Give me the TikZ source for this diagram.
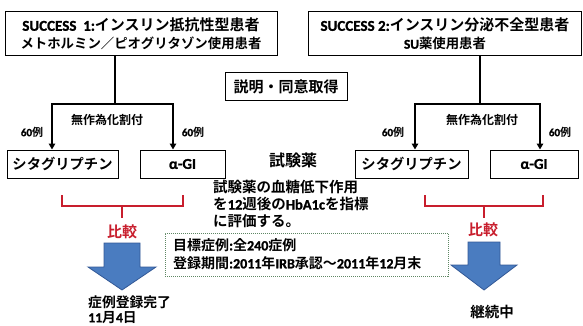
\documentclass[tikz,border=0pt]{standalone}
\usepackage{fontspec}
\setmainfont{Noto Sans CJK JP Bold}
\newfontfamily\latf{Carlito Bold}[FakeBold=1.3]
\newcommand\lt[1]{{\latf #1}}
\usetikzlibrary{arrows.meta}
\definecolor{redc}{RGB}{200,30,45}
\definecolor{bluef}{RGB}{74,124,192}
\definecolor{bluee}{RGB}{50,88,150}
\definecolor{greenb}{RGB}{95,135,100}
\begin{document}
\begin{tikzpicture}[x=1pt,y=-1pt,
  every node/.style={inner sep=0pt},
  box/.style={draw=black, line width=1pt, fill=white, align=center},
  conn/.style={line width=1.6pt},
  arr/.style={conn,-{Triangle[width=6.5pt,length=6pt]}},
  redl/.style={line width=1.8pt, draw=redc},
  barrow/.style={fill=bluef, draw=bluee, line width=0.8pt},
  lbl/.style={font=\fontsize{12}{14}\selectfont},
  small/.style={font=\fontsize{11}{13}\selectfont},
  mid/.style={font=\fontsize{14.5}{17}\selectfont}]
\useasboundingbox (0,0) rectangle (583,326);

% top boxes
\node[box, minimum width=272pt, minimum height=44pt] (b1) at (141,34)
  {\fontsize{15}{19}\selectfont\lt{SUCCESS\ \ 1:}インスリン抵抗性型患者\\[4pt]
   \fontsize{13.4}{17}\selectfont メトホルミン／ピオグリタゾン使用患者};
\node[box, minimum width=273pt, minimum height=44pt] (b2) at (445,34)
  {\fontsize{15}{19}\selectfont\lt{SUCCESS 2:}インスリン分泌不全型患者\\[4pt]
   \fontsize{13.4}{17}\selectfont \lt{SU}薬使用患者};

\node[box, minimum width=122pt, minimum height=28pt, font=\fontsize{15}{18}\selectfont] (ic) at (286,87) {説明・同意取得};

% drug boxes
\node[box, minimum width=111pt, minimum height=28pt, font=\fontsize{14.3}{17}\selectfont] (ls) at (62.5,164) {シタグリプチン};
\node[box, minimum width=85pt, minimum height=28pt, font=\fontsize{15}{17}\selectfont] (la) at (182.5,164) {\lt{α-GI}};
\node[box, minimum width=113pt, minimum height=28pt, font=\fontsize{14.3}{17}\selectfont] (rs) at (411.5,164) {シタグリプチン};
\node[box, minimum width=88pt, minimum height=28pt, font=\fontsize{15}{17}\selectfont] (ra) at (534,164) {\lt{α-GI}};

% connectors left
\coordinate (lj) at (115,104);
\coordinate (lx) at (52,104);
\coordinate (ly) at (173,104);
\draw[conn] (b1.south -| lj) -- (lj);
\draw[arr] (lj) -- (lx) -- (lx |- ls.north);
\draw[arr] (lj) -- (ly) -- (ly |- la.north);
% connectors right
\coordinate (rj) at (480,104);
\coordinate (rx) at (415,104);
\coordinate (ry) at (540,104);
\draw[conn] (b2.south -| rj) -- (rj);
\draw[arr] (rj) -- (rx) -- (rx |- rs.north);
\draw[arr] (rj) -- (ry) -- (ry |- ra.north);

\node[lbl] (lr) at (107,120) {無作為化割付};
\node[lbl] (rr) at (482,120) {無作為化割付};
\node[small] (n1) at (32,132) {\lt{60}例};
\node[small] (n2) at (193,132) {\lt{60}例};
\node[small] (n3) at (393,132) {\lt{60}例};
\node[small] (n4) at (560,132) {\lt{60}例};

% middle texts
\node[font=\fontsize{16}{18}\selectfont] (sy) at (293,160) {試験薬};
\node[mid, anchor=west, align=left] (desc) at (213,204)
  {試験薬の血糖低下作用\\を\lt{12}週後の\lt{HbA1c}を指標\\に評価する。};

\node[draw=greenb, densely dotted, line width=1pt, minimum width=283pt, minimum height=43pt] (gb) at (306.5,254.5) {};
\node[font=\fontsize{14}{18}\selectfont, anchor=west, align=left] (gt) at (173,254)
  {目標症例\lt{:}全\lt{240}症例\\登録期間\lt{:2011}年\lt{IRB}承認～\lt{2011}年\lt{12}月末};

% red brackets
\draw[redl] (62,195) -- (62,206) -- (183,206) -- (183,195);
\draw[redl] (122,206) -- (122,218);
\draw[redl] (425,195) -- (425,206) -- (543,206) -- (543,195);
\draw[redl] (484,206) -- (484,218);
\node[font=\fontsize{15}{17}\selectfont, text=redc] (c1) at (122,232) {比較};
\node[font=\fontsize{15}{17}\selectfont, text=redc] (c2) at (483,230) {比較};

% blue arrows
\draw[barrow] (104,243) -- (140,243) -- (140,267) -- (156,267) -- (122,290) -- (88,267) -- (104,267) -- cycle;
\draw[barrow] (468,242) -- (500,242) -- (500,265) -- (517,265) -- (484,290) -- (451,265) -- (468,265) -- cycle;

\node[font=\fontsize{13.8}{15}\selectfont, anchor=west, align=left] (done) at (88,309.5) {症例登録完了\\\lt{11}月\lt{4}日};
\node[mid] (cont) at (492,312) {継続中};
\end{tikzpicture}
\end{document}
